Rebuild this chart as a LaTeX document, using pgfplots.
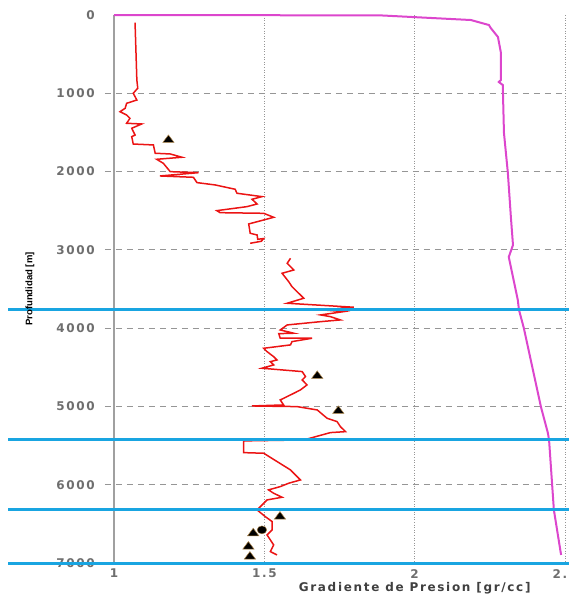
\documentclass[border=0pt]{standalone}
\usepackage{fontspec}
\setmainfont{DejaVu Sans}
\newfontfamily\tickfont[LetterSpace=14]{DejaVu Sans}
\newfontfamily\ylabfont{Liberation Sans}
\usepackage{pgfplots}
\pgfplotsset{compat=1.18}
\definecolor{tickgray}{RGB}{110,110,110}
\definecolor{labgray}{RGB}{64,64,64}
\definecolor{redline}{RGB}{235,20,20}
\definecolor{magline}{RGB}{220,70,205}
\definecolor{bluel}{RGB}{25,165,225}
\definecolor{axgray}{RGB}{160,160,160}
\definecolor{gridgray}{RGB}{150,150,150}
\definecolor{triedge}{RGB}{170,130,70}
\begin{document}
\begin{tikzpicture}
\begin{axis}[
  at={(114pt,37pt)}, anchor=south west,
  scale only axis, width=451pt, height=548pt,
  xmin=1, xmax=2.5, ymin=0, ymax=7000, y dir=reverse,
  clip=false,
  axis line style={draw=none},
  xtick={1,1.5,2,2.5}, xticklabels={1,1.5,2,2.5},
  ytick={0,1000,2000,3000,4000,5000,6000,7000},
  yticklabels={0,1000,2000,3000,4000,5000,6000,7000},
  tick style={draw=none},
  ticklabel style={font=\tickfont\bfseries\fontsize{12}{14}\selectfont, text=tickgray, inner sep=0pt},
  yticklabel style={anchor=east, xshift=-19pt},
  xticklabel style={anchor=north, yshift=-6pt},
  xlabel={Gradiente de Presion [gr/cc]},
  xlabel style={at={(axis description cs:0.6667,0)}, anchor=north, yshift=-19pt, inner sep=0pt,
    font=\tickfont\bfseries\fontsize{12}{14}\selectfont, text=labgray},
  ylabel={Profundidad [m]},
  ylabel style={at={(axis description cs:-0.1863,0.5)}, anchor=center, inner sep=0pt,
    font=\ylabfont\bfseries\fontsize{9.5}{11}\selectfont, text=black},
]
% grid
\draw[gridgray, line width=0.9pt, dash pattern=on 6pt off 5pt] (axis cs:0.97,1000) -- (axis cs:2.5,1000);
\draw[gridgray, line width=0.9pt, dash pattern=on 6pt off 5pt] (axis cs:0.97,2000) -- (axis cs:2.5,2000);
\draw[gridgray, line width=0.9pt, dash pattern=on 6pt off 5pt] (axis cs:0.97,3000) -- (axis cs:2.5,3000);
\draw[gridgray, line width=0.9pt, dash pattern=on 6pt off 5pt] (axis cs:0.97,4000) -- (axis cs:2.5,4000);
\draw[gridgray, line width=0.9pt, dash pattern=on 6pt off 5pt] (axis cs:0.97,5000) -- (axis cs:2.5,5000);
\draw[gridgray, line width=0.9pt, dash pattern=on 6pt off 5pt] (axis cs:0.97,6000) -- (axis cs:2.5,6000);
\draw[gridgray, line width=1pt, dash pattern=on 1pt off 1.6pt] (axis cs:1.5,0) -- (axis cs:1.5,7000);
\draw[gridgray, line width=1pt, dash pattern=on 1pt off 1.6pt] (axis cs:2,0) -- (axis cs:2,7000);
\draw[gridgray, line width=1pt, dash pattern=on 1pt off 1.6pt] (axis cs:2.5,0) -- (axis cs:2.5,7000);
\draw[axgray, line width=1.3pt] (axis cs:1,0) -- (axis cs:1,7000);
% magenta curve
\addplot[magline, line width=2pt, mark=none] coordinates {
(1.000,0) (1.887,5) (2.187,64) (2.247,128) (2.253,166) (2.277,281) (2.287,485)
(2.287,830) (2.280,856) (2.293,894) (2.297,1507) (2.310,2018) (2.320,2580)
(2.327,2938) (2.313,3091) (2.343,3640) (2.347,3768) (2.363,3998) (2.420,5006)
(2.443,5338) (2.447,5428) (2.463,6322) (2.487,6897)
};
% red curve, upper part
\addplot[redline, line width=1.5pt, mark=none] coordinates {
(1.070,98) (1.076,830) (1.079,935) (1.064,1000) (1.076,1086) (1.042,1128)
(1.037,1192) (1.020,1235) (1.042,1277) (1.053,1320) (1.042,1383) (1.092,1392)
(1.059,1447) (1.070,1533) (1.059,1554) (1.064,1648) (1.131,1660) (1.137,1766)
(1.187,1775) (1.226,1817) (1.142,1843) (1.164,1894) (1.187,2001) (1.281,2014)
(1.153,2056) (1.264,2073) (1.276,2141) (1.337,2171) (1.403,2226) (1.409,2277)
(1.492,2320) (1.459,2354) (1.476,2414) (1.442,2448) (1.342,2499) (1.353,2525)
(1.498,2533) (1.531,2584) (1.498,2618) (1.448,2669) (1.453,2788) (1.476,2810)
(1.478,2865) (1.498,2855) (1.490,2890) (1.453,2916)
};
% red curve, lower part
\addplot[redline, line width=1.5pt, mark=none] coordinates {
(1.587,3108) (1.576,3172) (1.598,3257) (1.559,3299) (1.581,3406) (1.592,3470)
(1.620,3576) (1.631,3618) (1.576,3682) (1.798,3733) (1.698,3768) (1.764,3789)
(1.687,3831) (1.720,3853) (1.753,3895) (1.687,3917) (1.576,3959) (1.553,4023)
(1.598,4065) (1.548,4070) (1.553,4129) (1.659,4129) (1.592,4172) (1.587,4214)
(1.498,4257) (1.509,4300) (1.531,4364) (1.542,4406) (1.520,4428) (1.531,4470)
(1.492,4512) (1.626,4555) (1.637,4619) (1.626,4662) (1.642,4725) (1.620,4789)
(1.598,4832) (1.553,4917) (1.564,4981) (1.459,4994) (1.609,5002) (1.676,5045)
(1.709,5152) (1.742,5194) (1.753,5258) (1.770,5322) (1.720,5334) (1.631,5428)
(1.431,5440) (1.431,5590) (1.498,5598) (1.587,5811) (1.620,5939) (1.581,5981)
(1.553,6024) (1.514,6066) (1.531,6109) (1.559,6160) (1.509,6194) (1.476,6322)
(1.503,6407) (1.526,6471) (1.526,6577) (1.509,6641) (1.531,6769) (1.520,6854)
(1.542,6897)
};
% measured points
\addplot[only marks, mark=triangle*, mark size=5pt,
  mark options={fill=black, draw=triedge, line width=0.5pt, xscale=1.3}] coordinates {
(1.181,1596) (1.676,4610) (1.746,5057) (1.552,6407) (1.463,6620) (1.447,6790) (1.452,6918)
};
\addplot[only marks, mark=*, mark size=4pt, mark options={fill=black, draw=triedge, xscale=1.2}] coordinates {
(1.492,6577)
};
% blue horizontal lines
\draw[bluel, line width=3pt] (axis cs:0.6475,3768) -- (axis cs:2.53,3768);
\draw[bluel, line width=3pt] (axis cs:0.6475,5428) -- (axis cs:2.53,5428);
\draw[bluel, line width=3pt] (axis cs:0.6475,6322) -- (axis cs:2.53,6322);
\draw[bluel, line width=3pt] (axis cs:0.6475,7000) -- (axis cs:2.53,7000);
\end{axis}
\pgfresetboundingbox
\path[use as bounding box] (0pt,0pt) rectangle (568pt,600pt);
\end{tikzpicture}
\end{document}
